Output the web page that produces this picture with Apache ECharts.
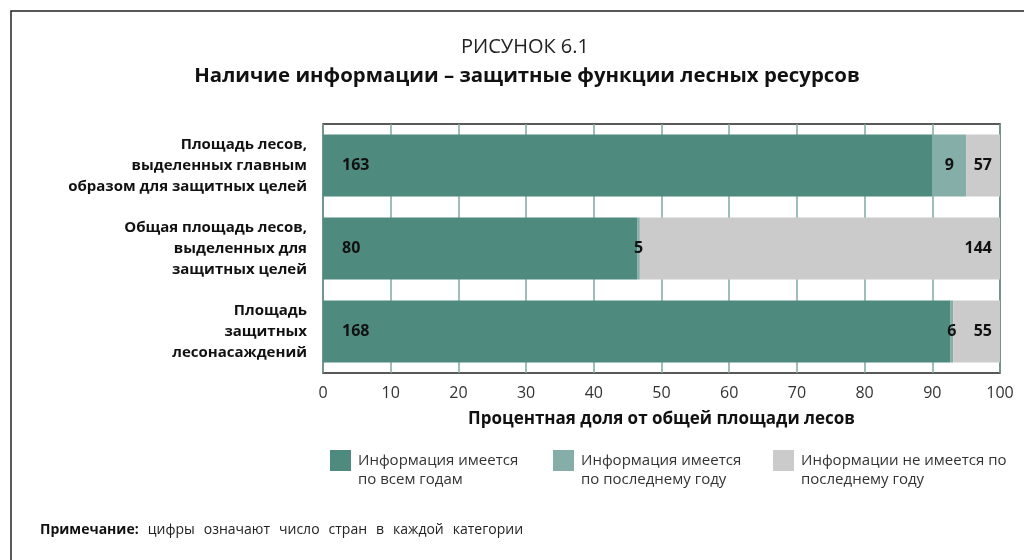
<!DOCTYPE html>
<html><head><meta charset="utf-8">
<script src="https://cdn.jsdelivr.net/npm/echarts@6/dist/echarts.min.js"></script>
<style>html,body{margin:0;padding:0;background:#fff}#c{width:1024px;height:560px}</style>
</head><body><div id="c"></div>
<script>
const categories = [
  "Площадь лесов,\nвыделенных главным\nобразом для защитных целей",
  "Общая площадь лесов,\nвыделенных для\nзащитных целей",
  "Площадь\nзащитных\nлесонасаждений"
];
const seriesNames = [
  "Информация имеется\nпо всем годам",
  "Информация имеется\nпо последнему году",
  "Информации не имеется по\nпоследнему году"
];
// percentage shares of forest area
const pctAll = [90.0, 46.4, 92.7];
const pctLast = [5.0, 0.4, 0.4];
const pctNone = [5.0, 53.2, 6.9];
// number of countries (labels)
const cntAll = [163, 80, 168];
const cntLast = [9, 5, 6];
const cntNone = [57, 144, 55];
const xTicks = [0,10,20,30,40,50,60,70,80,90,100];
const colors = ["#4f8a7e", "#86aea8", "#cbcbcb"];
const FONT = "'Open Sans', 'Noto Sans', sans-serif";

const chart = echarts.init(document.getElementById('c'));
const lbl = (cnt, pos, extra) => Object.assign({
  show: true, position: pos, color: '#111', fontFamily: FONT, fontWeight: 'bold', fontSize: 16,
  formatter: p => cnt[p.dataIndex]
}, extra || {});
const mkLegend = (name, left) => ({
  data: [name], left: left, top: 450, orient: 'horizontal', padding: 0,
  itemWidth: 21, itemHeight: 40, itemGap: 0,
  icon: 'path://M0,0H21V21H0Z M0,40L0.01,40',
  textStyle: { fontFamily: FONT, fontSize: 15, color: '#333', lineHeight: 19, padding: [0,0,0,2] },
  selectedMode: false
});
const noteWords = "цифры означают число стран в каждой категории".split(' ');
chart.setOption({
  animation: false,
  textStyle: { fontFamily: FONT },
  title: [
    { text: 'РИСУНОК 6.1', left: 520, top: 32, textAlign: 'center',
      textStyle: { fontFamily: FONT, fontWeight: 'normal', fontSize: 20, color: '#222' } },
    { text: 'Наличие информации – защитные функции лесных ресурсов', left: 522, top: 61, textAlign: 'center',
      textStyle: { fontFamily: FONT, fontWeight: 'bold', fontSize: 20.4, color: '#111' } }
  ],
  legend: [ mkLegend(seriesNames[0], 330), mkLegend(seriesNames[1], 553), mkLegend(seriesNames[2], 773) ],
  grid: { left: 323, right: 24, top: 124, bottom: 187, show: true, borderColor: '#222', borderWidth: 1.5 },
  xAxis: {
    type: 'value', min: 0, max: 100, interval: 10,
    axisLine: { show: false }, axisTick: { show: false },
    splitLine: { show: true, lineStyle: { color: '#7fa9a3', width: 1.5 } },
    axisLabel: { fontFamily: FONT, fontSize: 16, color: '#333', margin: 12,
      formatter: v => xTicks.indexOf(v) >= 0 ? String(v) : '' },
    name: 'Процентная доля от общей площади лесов', nameLocation: 'middle', nameGap: 38,
    nameTextStyle: { fontFamily: FONT, fontWeight: 'bold', fontSize: 17, color: '#111' }
  },
  yAxis: {
    type: 'category', data: categories, inverse: true,
    axisLine: { show: false }, axisTick: { show: false },
    axisLabel: { fontFamily: FONT, fontWeight: 'bold', fontSize: 15, color: '#111', lineHeight: 21, margin: 16, align: 'right' }
  },
  series: [
    { name: seriesNames[0], type: 'bar', stack: 's', data: pctAll, barWidth: 62,
      itemStyle: { color: colors[0] }, label: lbl(cntAll, 'insideLeft', { distance: 19 }) },
    { name: seriesNames[1], type: 'bar', stack: 's', data: pctLast, barWidth: 62,
      itemStyle: { color: colors[1] }, label: lbl(cntLast, 'inside') },
    { name: seriesNames[2], type: 'bar', stack: 's', data: pctNone, barWidth: 62,
      itemStyle: { color: colors[2] }, label: lbl(cntNone, 'insideRight', { distance: 8 }) }
  ],
  graphic: [
    { type: 'rect', shape: { x: 11, y: 11, width: 1040, height: 600 }, style: { fill: 'none', stroke: '#222', lineWidth: 1.5 }, silent: true },
    { type: 'text', left: 40, top: 523, style: {
        text: '{b|Примечание:}{s| }' + noteWords.join('{s| }'),
        rich: { b: { fontFamily: FONT, fontWeight: 'bold', fontSize: 14, fill: '#111' },
                s: { width: 9, fontSize: 14 } },
        fontFamily: FONT, fontSize: 14, fill: '#222' } }
  ]
});
</script></body></html>
